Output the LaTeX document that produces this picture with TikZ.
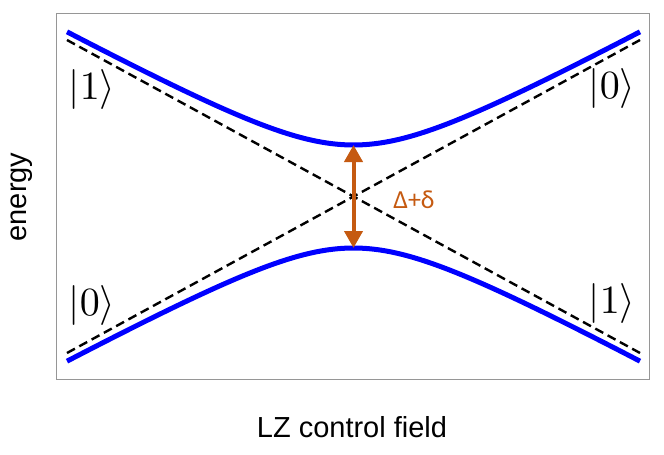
\documentclass[tikz,border=0pt]{standalone}
\usepackage{fontspec}
\newfontfamily\arialf{Liberation Sans}
\newfontfamily\calibf{Carlito}
\usetikzlibrary{arrows.meta}
\definecolor{lzorange}{RGB}{197,90,17}
\definecolor{framegray}{RGB}{150,150,150}
\newcommand{\bigket}[1]{\scalebox{4}{$|#1\rangle$}}
\begin{document}
\begin{tikzpicture}[x=1pt,y=-1pt,
  level/.style={draw=blue,line width=5pt},
  diabatic/.style={draw=black,line width=2.4pt,dash pattern=on 9pt off 5pt},
  ket/.style={inner sep=0pt},
  axislabel/.style={font=\arialf\fontsize{29}{34}\selectfont,inner sep=0pt},
  gaplabel/.style={font=\calibf\fontsize{26}{30}\selectfont,text=lzorange,inner sep=0pt},
  gaparrow/.style={draw=lzorange,line width=4pt,{Triangle[width=18pt,length=17pt]}-{Triangle[width=18pt,length=17pt]}}]
\useasboundingbox (0,0) rectangle (664,455);
\node[draw=framegray,line width=1pt,minimum width=592.5pt,minimum height=365.5pt,inner sep=0pt] (frame) at (352.75,196.25) {};
% diabatic lines
\coordinate (d1) at (67,40);
\coordinate (d2) at (640,353);
\coordinate (d3) at (67,353);
\coordinate (d4) at (640,40);
\draw[diabatic] (d1) -- (d2);
\draw[diabatic] (d3) -- (d4);
% adiabatic levels
\draw[level] plot[domain=67:640,samples=120] (\x,{196.5-10*sqrt((0.0546*(\x-353.5))^2+5.15^2)});
\draw[level] plot[domain=67:640,samples=120] (\x,{196.5+10*sqrt((0.0546*(\x-353.5))^2+5.15^2)});
% gap arrow
\coordinate (gtop) at (353.5,145);
\coordinate (gbot) at (353.5,248);
\draw[gaparrow] (gtop) -- (gbot);
\node[gaplabel,anchor=base] (gap) at (414,208) {Δ+δ};
% kets
\node[ket] (k1tl) at (92,89) {\bigket{1}};
\node[ket] (k0tr) at (612,88) {\bigket{0}};
\node[ket] (k0bl) at (92,305) {\bigket{0}};
\node[ket] (k1br) at (612,303) {\bigket{1}};
% axis labels
\node[axislabel,anchor=base,rotate=90] (ylab) at (26,197) {energy};
\node[axislabel,anchor=base] (xlab) at (352,437) {LZ control field};
\end{tikzpicture}
\end{document}
